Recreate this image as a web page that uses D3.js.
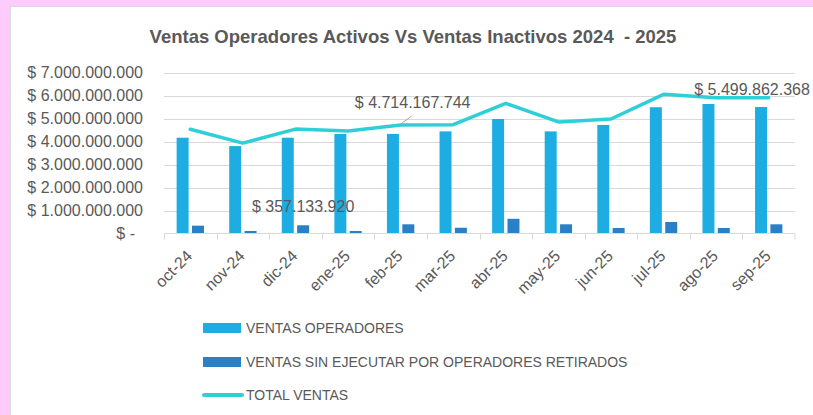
<!DOCTYPE html>
<html lang="es">
<head>
<meta charset="utf-8">
<title>Ventas Operadores</title>
<script src="https://cdn.jsdelivr.net/npm/d3@7"></script>
<style>
  html, body { margin: 0; padding: 0; background: #fdccfc; }
  svg { display: block; font-family: "Liberation Sans", Arial, sans-serif; }
  .grid line { stroke: #d9d9d9; stroke-width: 1; }
</style>
</head>
<body>
<div id="chart"></div>
<script>
// data
var meses = ["oct-24", "nov-24", "dic-24", "ene-25", "feb-25", "mar-25",
             "abr-25", "may-25", "jun-25", "jul-25", "ago-25", "sep-25"];
var ventasOperadores = [4165000000, 3800000000, 4165000000, 4330000000, 4330000000, 4440000000,
                        4980000000, 4440000000, 4720000000, 5490000000, 5630000000, 5499862368];
var ventasSinEjecutar = [340000000, 110000000, 357133920, 110000000, 400000000, 250000000,
                         640000000, 400000000, 240000000, 500000000, 240000000, 400000000];
var totalVentas = [4530000000, 3930000000, 4540000000, 4460000000, 4714167744, 4730000000,
                   5660000000, 4850000000, 4980000000, 6050000000, 5900000000, 5900000000];
var yTicks = [0, 1e9, 2e9, 3e9, 4e9, 5e9, 6e9, 7e9];
var series = ["VENTAS OPERADORES", "VENTAS SIN EJECUTAR POR OPERADORES RETIRADOS", "TOTAL VENTAS"];
var colores = ["#1eade3", "#2a80c6", "#2ecfd8"];

var width = 813, height = 415;
var textColor = "#595959";

var svg = d3.select("#chart").append("svg")
    .attr("width", width)
    .attr("height", height);

// pink background + white chart area
svg.append("rect").attr("width", width).attr("height", height).attr("fill", "#fdccfc");
svg.append("rect")
    .attr("x", 10.5).attr("y", 6.5)
    .attr("width", width + 10).attr("height", height + 10)
    .attr("fill", "#fff").attr("stroke", "#d9d9d9");

svg.append("text")
    .attr("x", 413).attr("y", 43)
    .attr("text-anchor", "middle")
    .attr("font-size", "18.5px")
    .attr("font-weight", "bold")
    .attr("fill", textColor)
    .style("white-space", "pre")
    .text("Ventas Operadores Activos Vs Ventas Inactivos 2024  - 2025");

var x = d3.scaleBand().domain(meses).range([164, 795]);
var bw = x.bandwidth();
var x1 = d3.scaleBand().domain([0, 1]).range([bw * 0.24, bw * 0.76]).paddingInner(0.22);
var y = d3.scaleLinear().domain([0, 7e9]).range([233.5, 72.5]);

function fmt(v) {
  if (v === 0) return "$ -";
  return "$ " + d3.format(",.0f")(v).replace(/,/g, ".");
}

// gridlines
svg.append("g").attr("class", "grid")
  .selectAll("line").data(yTicks.slice(1)).enter().append("line")
    .attr("x1", 164).attr("x2", 795)
    .attr("y1", function(d) { return Math.round(y(d)) + 0.5; })
    .attr("y2", function(d) { return Math.round(y(d)) + 0.5; });

// y axis labels
var yAxis = svg.append("g")
    .attr("transform", "translate(143,0)")
    .call(d3.axisLeft(y).tickValues(yTicks).tickFormat(fmt).tickSize(0).tickPadding(0));
yAxis.select(".domain").remove();
yAxis.selectAll("text")
    .attr("font-size", "16px")
    .attr("font-family", "Liberation Sans, Arial, sans-serif")
    .attr("fill", textColor)
    .attr("x", function(d) { return d === 0 ? -8 : 0; });

// bars
var grupos = svg.append("g").selectAll("g").data(meses).enter().append("g")
    .attr("transform", function(d) { return "translate(" + x(d) + ",0)"; });
grupos.append("rect")
    .attr("x", x1(0)).attr("width", x1.bandwidth())
    .attr("y", function(d, i) { return y(ventasOperadores[i]); })
    .attr("height", function(d, i) { return y(0) - y(ventasOperadores[i]); })
    .attr("fill", colores[0]);
grupos.append("rect")
    .attr("x", x1(1)).attr("width", x1.bandwidth())
    .attr("y", function(d, i) { return y(ventasSinEjecutar[i]); })
    .attr("height", function(d, i) { return y(0) - y(ventasSinEjecutar[i]); })
    .attr("fill", colores[1]);

// x axis
var xAxis = svg.append("g")
    .attr("transform", "translate(0," + (y(0)) + ")");
xAxis.append("line")
    .attr("x1", 164).attr("x2", 795)
    .attr("stroke", "#d9d9d9");
xAxis.selectAll(".tk").data(meses.concat(["fin"])).enter().append("line")
    .attr("x1", function(d) { return d === "fin" ? 795 : Math.round(x(d)) + 0.5; })
    .attr("x2", function(d) { return d === "fin" ? 795 : Math.round(x(d)) + 0.5; })
    .attr("y1", 0).attr("y2", 6)
    .attr("stroke", "#d9d9d9");
xAxis.selectAll("text").data(meses).enter().append("text")
    .attr("transform", function(d) {
      return "translate(" + (x(d) + bw / 2 + 3) + ",23.5) rotate(-45)";
    })
    .attr("text-anchor", "end")
    .attr("font-size", "16px")
    .attr("fill", textColor)
    .text(function(d) { return d; });

// total line
var linea = d3.line()
    .x(function(d, i) { return x(meses[i]) + bw / 2; })
    .y(function(d) { return y(d); });
svg.append("path")
    .datum(totalVentas)
    .attr("d", linea)
    .attr("fill", "none")
    .attr("stroke", colores[2])
    .attr("stroke-width", 3.5)
    .attr("stroke-linejoin", "round")
    .attr("stroke-linecap", "round");

// data labels
var iDic = meses.indexOf("dic-24");
svg.append("text")
    .attr("x", x(meses[iDic]) + x1(1) + x1.bandwidth() / 2)
    .attr("y", y(ventasSinEjecutar[iDic]) - 19)
    .attr("dy", "0.35em")
    .attr("text-anchor", "middle")
    .attr("font-size", "16px").attr("fill", textColor)
    .text(fmt(ventasSinEjecutar[iDic]));

var iFeb = meses.indexOf("feb-25");
var px = x(meses[iFeb]) + bw / 2, py = y(totalVentas[iFeb]);
svg.append("line")
    .attr("x1", px).attr("y1", py - 1)
    .attr("x2", px + 11).attr("y2", py - 9)
    .attr("stroke", "#a6a6a6").attr("stroke-width", 1);
svg.append("text")
    .attr("x", px + 12)
    .attr("y", py - 23)
    .attr("dy", "0.35em")
    .attr("text-anchor", "middle")
    .attr("font-size", "16px").attr("fill", textColor)
    .text(fmt(totalVentas[iFeb]));

var iSep = meses.indexOf("sep-25");
svg.append("text")
    .attr("x", x(meses[iSep]) + x1(0) + x1.bandwidth() / 2 - 9)
    .attr("y", y(ventasOperadores[iSep]) - 18)
    .attr("dy", "0.35em")
    .attr("text-anchor", "middle")
    .attr("font-size", "16px").attr("fill", textColor)
    .text(fmt(ventasOperadores[iSep]));

// legend
var leyenda = svg.append("g").attr("transform", "translate(203,0)");
var filas = [328, 362, 395];
series.forEach(function(s, i) {
  if (i < 2) {
    leyenda.append("rect")
      .attr("x", 0).attr("y", filas[i] - 5)
      .attr("width", 38).attr("height", 10)
      .attr("fill", colores[i]);
  } else {
    leyenda.append("line")
      .attr("x1", 1).attr("x2", 39)
      .attr("y1", filas[i]).attr("y2", filas[i])
      .attr("stroke", colores[i]).attr("stroke-width", 4)
      .attr("stroke-linecap", "round");
  }
  leyenda.append("text")
    .attr("x", 43).attr("y", filas[i])
    .attr("dy", "0.35em")
    .attr("font-size", "14px").attr("fill", textColor)
    .text(s);
});
</script>
</body>
</html>
